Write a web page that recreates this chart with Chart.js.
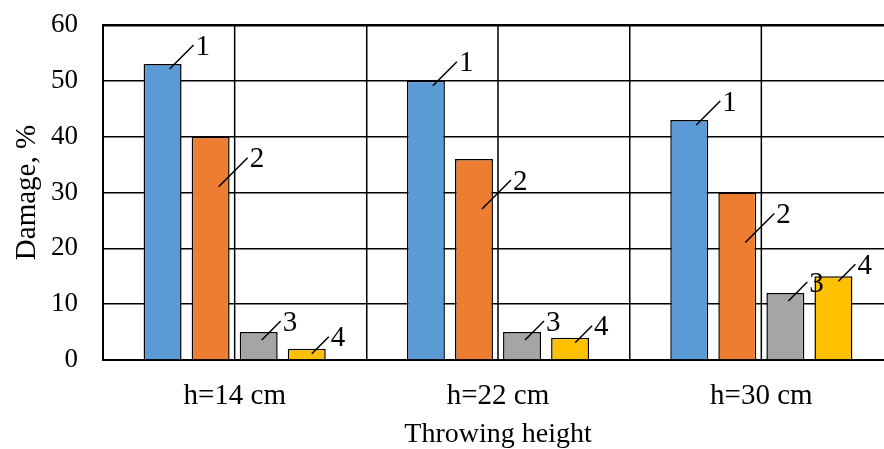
<!DOCTYPE html>
<html>
<head>
<meta charset="utf-8">
<script src="https://cdn.jsdelivr.net/npm/chart.js@4"></script>
<style>
  html, body { margin: 0; padding: 0; background: #fff; overflow: hidden; }
  #wrap { width: 900px; height: 449px; }
</style>
</head>
<body>
<div id="wrap"><canvas id="chart" width="900" height="449"></canvas></div>
<script>
const categories = ['h=14 cm', 'h=22 cm', 'h=30 cm'];
const seriesNames = ['1', '2', '3', '4'];
const series1 = [53, 50, 43];
const series2 = [40, 36, 30];
const series3 = [5, 5, 12];
const series4 = [2, 4, 15];
const yTicks = [0, 10, 20, 30, 40, 50, 60];

const FONT = '"Liberation Serif", "Times New Roman", serif';
const colors = ['#5B9BD5', '#ED7D31', '#A5A5A5', '#FFC000'];

// leader line placement per series (offset into bar, diagonal length)
const leaders = [
    { dx: 7, dy: 5, len: 24 },
    { dx: 8, dy: 50, len: 29 },
    { dx: 3, dy: 8, len: 19 },
    { dx: 5, dy: 5, len: 17 },
];

// extra vertical gridlines through the middle of each category
const centerGridPlugin = {
    id: 'centerGrid',
    beforeDatasetsDraw(chart) {
        const { ctx, chartArea, scales } = chart;
        ctx.save();
        ctx.strokeStyle = '#000';
        ctx.lineWidth = 1.5;
        categories.forEach((_, i) => {
            const x = scales.x.getPixelForValue(i);
            ctx.beginPath();
            ctx.moveTo(x, chartArea.top);
            ctx.lineTo(x, chartArea.bottom);
            ctx.stroke();
        });
        ctx.restore();
    },
};

const leaderLabelPlugin = {
    id: 'leaderLabels',
    afterDatasetsDraw(chart) {
        const ctx = chart.ctx;
        ctx.save();
        ctx.strokeStyle = '#000';
        ctx.lineWidth = 1.5;
        ctx.fillStyle = '#000';
        ctx.font = '29px ' + FONT;
        ctx.textAlign = 'left';
        ctx.textBaseline = 'middle';
        chart.data.datasets.forEach((ds, i) => {
            const meta = chart.getDatasetMeta(i);
            const cfg = leaders[i];
            meta.data.forEach((bar) => {
                const x0 = bar.x + cfg.dx;
                const y0 = bar.y + cfg.dy;
                const x1 = x0 + cfg.len;
                const y1 = y0 - cfg.len;
                ctx.beginPath();
                ctx.moveTo(x0, y0);
                ctx.lineTo(x1, y1);
                ctx.stroke();
                ctx.fillText(ds.label, x1 + 2, y1 + 2);
            });
        });
        ctx.restore();
    },
};

const datasets = [series1, series2, series3, series4].map((values, i) => ({
    label: seriesNames[i],
    data: values,
    backgroundColor: colors[i],
    borderColor: '#000',
    borderWidth: 1.5,
    categoryPercentage: 0.73,
    barPercentage: 0.79,
}));

new Chart(document.getElementById('chart'), {
    type: 'bar',
    data: { labels: categories, datasets },
    options: {
        responsive: false,
        animation: false,
        devicePixelRatio: 1,
        layout: { padding: { top: 25, right: 7, left: 0, bottom: 0 } },
        plugins: {
            legend: { display: false },
            tooltip: { enabled: false },
        },
        scales: {
            x: {
                grid: { display: true, offset: true, color: '#000', lineWidth: 1.5, drawTicks: false },
                border: { display: true, color: '#000', width: 2 },
                ticks: { color: '#000', font: { family: FONT, size: 29 }, padding: 19 },
                title: {
                    display: true,
                    text: 'Throwing height',
                    color: '#000',
                    font: { family: FONT, size: 28, lineHeight: 1.0 },
                    padding: { top: 0, bottom: 0 },
                },
                afterFit: (s) => { s.height = 89; },
            },
            y: {
                min: 0,
                max: 60,
                afterBuildTicks: (s) => { s.ticks = yTicks.map((v) => ({ value: v })); },
                grid: {
                    color: '#000',
                    lineWidth: (c) => (c.tick && c.tick.value === 60 ? 2.5 : 1.5),
                    drawTicks: true,
                    tickLength: 25,
                    tickColor: 'rgba(0,0,0,0)',
                },
                border: { display: true, color: '#000', width: 2 },
                ticks: { color: '#000', font: { family: FONT, size: 27 }, padding: 0 },
                title: {
                    display: true,
                    text: 'Damage, %',
                    color: '#000',
                    font: { family: FONT, size: 29 },
                    padding: { top: 10, bottom: 0 },
                },
                afterFit: (s) => { s.width = 103; },
            },
        },
    },
    plugins: [centerGridPlugin, leaderLabelPlugin],
});
</script>
</body>
</html>
